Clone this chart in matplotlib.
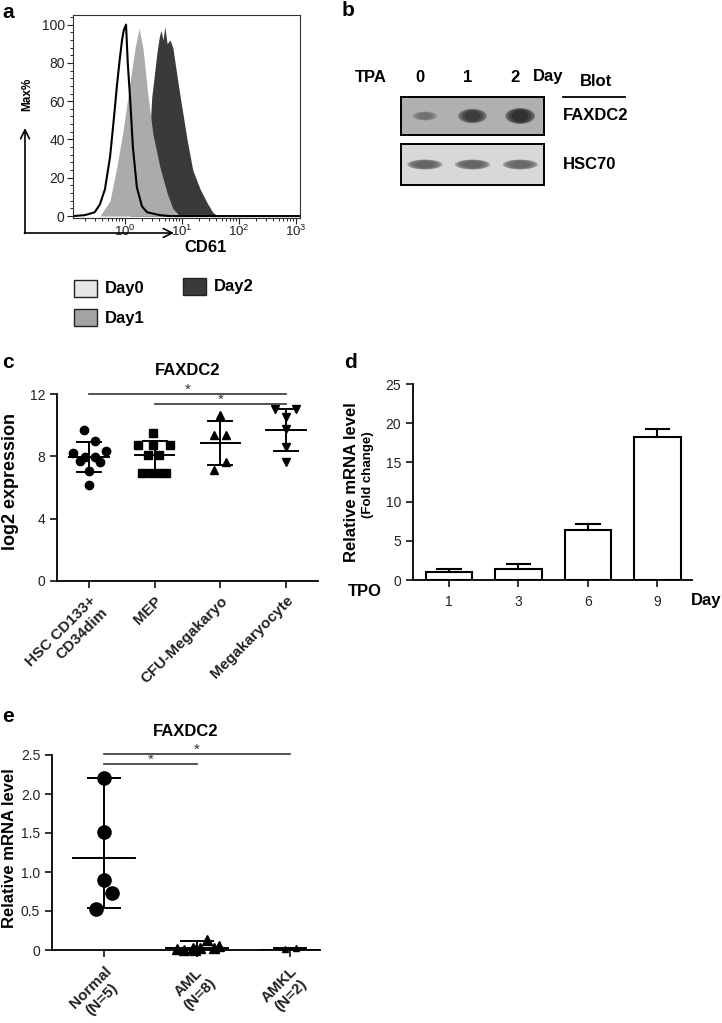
import numpy as np
import matplotlib
matplotlib.use('Agg')
import matplotlib.pyplot as plt
from matplotlib.patches import Rectangle, Ellipse
from matplotlib.ticker import MultipleLocator, LogLocator, NullFormatter

plt.rcParams['font.family'] = ['Liberation Sans', 'DejaVu Sans']
plt.rcParams['mathtext.default'] = 'regular'

# ---- panel a: CD61 histograms (log10 position, % of max)
day0_logx = [-0.91, -0.70, -0.53, -0.44, -0.35, -0.26, -0.19, -0.14, -0.09, -0.05, -0.02,
             0.02, 0.05, 0.09, 0.14, 0.21, 0.30, 0.39, 0.61, 0.79, 3.07]
day0_max = [0, 0.5, 2, 6, 14, 31, 52, 68, 82, 92, 97, 100, 80, 62, 36, 15, 5, 2, 0.5, 0, 0]
day1_logx = [-0.44, -0.26, -0.14, -0.04, 0.09, 0.18, 0.25, 0.32, 0.40, 0.49, 0.61, 0.74, 0.84, 0.96]
day1_max = [0, 8, 26, 43, 70, 88, 98, 87, 64, 43, 26, 12, 4, 0]
day2_logx = [0.09, 0.26, 0.39, 0.44, 0.47, 0.51, 0.56, 0.60, 0.63, 0.67, 0.70, 0.74, 0.79,
             0.84, 0.89, 0.96, 1.09, 1.19, 1.32, 1.44, 1.54, 1.63]
day2_max = [0, 5, 20, 45, 62, 72, 85, 93, 97, 92, 99, 90, 92, 88, 78, 64, 40, 24, 14, 7, 2, 0]
legend_days = ['Day0', 'Day1', 'Day2']

# ---- panel b: blot band strength (0..1)
tpa_days = ['0', '1', '2']
faxdc2_band = [0.35, 0.85, 1.0]
hsc70_band = [0.8, 0.8, 0.75]

# ---- panel c: log2 expression
c_groups = ['HSC CD133+\nCD34dim', 'MEP', 'CFU-Megakaryo', 'Megakaryocyte']
c_hsc = [9.69, 9.0, 8.2, 8.36, 7.94, 7.70, 7.94, 7.66, 7.06, 6.16]
c_hsc_jit = [-0.08, 0.09, -0.24, 0.25, -0.06, -0.14, 0.09, 0.17, 0.0, 0.0]
c_mep = [9.52, 8.73, 8.73, 8.73, 8.09, 8.09, 6.91, 6.91, 6.91, 6.91]
c_mep_jit = [-0.02, -0.26, -0.02, 0.23, -0.1, 0.06, -0.2, -0.06, 0.06, 0.17]
c_cfu = [10.65, 9.37, 9.37, 7.66, 7.12]
c_cfu_jit = [0.0, -0.09, 0.08, 0.08, -0.09]
c_mk = [11.02, 11.02, 10.55, 9.73, 8.58, 7.66]
c_mk_jit = [-0.17, 0.15, 0.0, 0.0, 0.0, 0.0]
c_mean = [7.98, 8.08, 8.83, 9.69]
c_sd = [0.96, 0.93, 1.41, 1.36]
c_sig = [(0, 3, 12.0), (1, 3, 11.35)]

# ---- panel d: fold change after TPO
d_days = ['1', '3', '6', '9']
d_fold = [1.0, 1.4, 6.42, 18.28]
d_err = [0.4, 0.6, 0.68, 0.98]

# ---- panel e: relative mRNA in patients
e_groups = ['Normal\n(N=5)', 'AML\n(N=8)', 'AMKL\n(N=2)']
e_norm = [2.21, 1.51, 0.90, 0.73, 0.53]
e_norm_jit = [0.0, 0.0, 0.0, 0.09, -0.09]
e_aml = [0.01, 0.0, 0.03, 0.0, 0.02, 0.13, 0.02, 0.05]
e_aml_jit = [-0.22, -0.14, -0.05, -0.02, 0.03, 0.11, 0.18, 0.23]
e_amkl = [0.01, 0.02]
e_amkl_jit = [-0.06, 0.06]
e_center = [1.175, 0.02, 0.005]
e_low = [0.534, 0.0, 0.0]
e_high = [2.21, 0.12, 0.02]
e_sig = [(0, 2, 2.51), (0, 1, 2.39)]

W, H = 722, 1023
fig = plt.figure(figsize=(W / 100, H / 100), dpi=100, facecolor='white')


def box(l, t, r, b):
    return fig.add_axes([l / W, 1 - b / H, (r - l) / W, (b - t) / H])


def fp(x, y):
    return (x / W, 1 - y / H)


def ftext(x, y, s, **kw):
    fig.text(x / W, 1 - y / H, s, **kw)


def star(ax, x, y):
    ax.annotate('*', (x, y), xytext=(0, 3), textcoords='offset points', ha='center',
                va='center', fontsize=11, color='#333333', annotation_clip=False)


TXT = '#222222'

# panel letters
for letter, (x, y) in zip('abcde', [(2, 12), (342, 11), (2, 363), (344, 363), (2, 717)]):
    ftext(x, y, letter, fontsize=15, fontweight='bold', va='center')

# ================= a =================
ax = box(73, 15, 300, 218)
ax.fill_between(10 ** np.array(day2_logx), day2_max, color='#3a3a3a', lw=0)
ax.fill_between(10 ** np.array(day1_logx), day1_max, color='#ababab', lw=0)
ax.plot(10 ** np.array(day0_logx), day0_max, color='black', lw=1.5)
ax.set_xscale('log')
ax.set_xlim(10 ** -0.91, 10 ** 3.07)
ax.set_ylim(-1, 105)
ax.set_yticks([0, 20, 40, 60, 80, 100])
ax.yaxis.set_minor_locator(MultipleLocator(4))
ax.xaxis.set_major_locator(LogLocator(base=10, numticks=10))
ax.xaxis.set_minor_locator(LogLocator(base=10, subs=np.arange(2, 10), numticks=20))
ax.xaxis.set_minor_formatter(NullFormatter())
ax.tick_params(which='major', length=4, width=0.8, labelsize=10, colors=TXT, pad=2)
ax.tick_params(axis='x', which='major', pad=0.5, labelsize=9.5)
ax.tick_params(which='minor', length=2, width=0.6)
for s in ax.spines.values():
    s.set_linewidth(0.8)
    s.set_color('#333333')

ax.annotate('', xy=fp(25, 128), xytext=fp(25, 233.5), xycoords='figure fraction',
            arrowprops=dict(arrowstyle='->', lw=1.2, mutation_scale=16, shrinkA=0, shrinkB=0))
ax.annotate('', xy=fp(174, 233), xytext=fp(24.4, 233), xycoords='figure fraction',
            arrowprops=dict(arrowstyle='->', lw=1.2, mutation_scale=16, shrinkA=0, shrinkB=0))
ftext(27, 94, 'Max%', rotation=90, fontsize=8.5, fontweight='bold', ha='center', va='center')
ftext(184, 247, 'CD61', fontsize=12, fontweight='bold', va='center')

leg_colors = ['#e6e6e6', '#a3a3a3', '#3a3a3a']
leg_pos = [(74, 280), (74, 309), (183, 278)]
for name, col, (x, y) in zip(legend_days, leg_colors, leg_pos):
    fig.patches.append(Rectangle(fp(x, y + 17), 23 / W, 17 / H, transform=fig.transFigure,
                                 facecolor=col, edgecolor='#222222', lw=1.0))
    ftext(x + 31, y + 9, name, fontsize=12, fontweight='bold', va='center')

# ================= b =================
blots = [('FAXDC2', faxdc2_band, (97, 135), '#b0b0b0', '#111111', 0.32),
         ('HSC70', hsc70_band, (144, 185), '#d8d8d8', '#555555', 0.5)]
for name, bands, (t, b), bg, bc, alf in blots:
    bx = box(401, t, 544, b)
    bx.set_facecolor(bg)
    bx.set_xlim(-0.5, 2.5)
    bx.set_ylim(0, 1)
    bx.set_xticks([])
    bx.set_yticks([])
    for s in bx.spines.values():
        s.set_linewidth(1.4)
    for i, v in enumerate(bands):
        if name == 'FAXDC2':
            w, h = 0.48 + 0.15 * v, 0.14 + 0.28 * v
        else:
            w, h = 0.74, 0.24
        for sc in [1.0, 0.9, 0.75, 0.55]:
            bx.add_patch(Ellipse((i, 0.5), w * sc, h * sc ** 0.5, facecolor=bc,
                                 edgecolor='none', alpha=alf * v))
    ftext(563, (t + b) / 2, name, fontsize=12, fontweight='bold', va='center')

ftext(371, 77, 'TPA', fontsize=12, fontweight='bold', ha='center', va='center')
for i, d in enumerate(tpa_days):
    ftext(401 + 143 * (i + 0.5) / 3 - 5, 77, d, fontsize=12, fontweight='bold',
          ha='center', va='center')
ftext(548, 77, 'Day', fontsize=12, fontweight='bold', ha='center', va='center')
ftext(596, 81, 'Blot', fontsize=12, fontweight='bold', ha='center', va='center')
fig.add_artist(plt.Line2D([563 / W, 625 / W], [1 - 97 / H, 1 - 97 / H], color='black', lw=1.3))

# ================= c =================
ax = box(57, 394, 318, 581)
groups_c = [(c_hsc, c_hsc_jit, 'o'), (c_mep, c_mep_jit, 's'),
            (c_cfu, c_cfu_jit, '^'), (c_mk, c_mk_jit, 'v')]
for i, (vals, jit, mk) in enumerate(groups_c):
    ax.plot(i + np.array(jit), vals, mk, color='black', ms=6, ls='none', clip_on=False)
    m, s = c_mean[i], c_sd[i]
    ax.plot([i, i], [m - s, m + s], color='black', lw=1.4)
    ax.plot([i - 0.3, i + 0.3], [m, m], color='black', lw=1.4)
    ax.plot([i - 0.18, i + 0.18], [m + s, m + s], color='black', lw=1.4)
    ax.plot([i - 0.18, i + 0.18], [m - s, m - s], color='black', lw=1.4)
for a0, a1, y in c_sig:
    ax.plot([a0, a1], [y, y], color='#333333', lw=1.2, clip_on=False)
    star(ax, (a0 + a1) / 2, y)
ax.set_xlim(-0.49, 3.49)
ax.set_ylim(0, 12)
ax.set_yticks([0, 4, 8, 12])
ax.set_xticks(range(4))
ax.set_xticklabels(c_groups, rotation=45, ha='right', va='top', rotation_mode='anchor',
                   fontsize=11, fontweight='bold', multialignment='right')
ax.tick_params(length=5, width=1.3, labelsize=10, colors=TXT)
ax.tick_params(axis='x', labelsize=11, pad=4)
for sp in ['top', 'right']:
    ax.spines[sp].set_visible(False)
for sp in ['left', 'bottom']:
    ax.spines[sp].set_linewidth(1.3)
ax.set_ylabel('log2 expression', fontsize=13, fontweight='bold')
ax.yaxis.set_label_coords(-38 / 261, 0.53)
ax.set_title('FAXDC2', fontsize=12, fontweight='bold', pad=14)

# ================= d =================
ax = box(413, 384, 692, 580)
xs = np.arange(len(d_days))
ax.bar(xs, d_fold, width=0.67, facecolor='white', edgecolor='black', lw=1.5)
for i in xs:
    top = d_fold[i] + d_err[i]
    ax.plot([i, i], [d_fold[i], top], color='black', lw=1.5)
    ax.plot([i - 0.17, i + 0.17], [top, top], color='black', lw=1.5)
ax.set_xlim(-0.52, 3.5)
ax.set_ylim(0, 25)
ax.set_yticks([0, 5, 10, 15, 20, 25])
ax.set_xticks(xs)
ax.set_xticklabels(d_days)
ax.tick_params(length=5, width=1.3, labelsize=10, colors=TXT)
ax.tick_params(axis='x', pad=6)
for sp in ['top', 'right']:
    ax.spines[sp].set_visible(False)
for sp in ['left', 'bottom']:
    ax.spines[sp].set_linewidth(1.3)
ftext(351, 482, 'Relative mRNA level', rotation=90, fontsize=12, fontweight='bold',
      ha='center', va='center')
ftext(368, 475, '(Fold change)', rotation=90, fontsize=9.5, fontweight='bold',
      ha='center', va='center')
ftext(365, 591, 'TPO', fontsize=12, fontweight='bold', ha='center', va='center')
ftext(706, 600, 'Day', fontsize=12, fontweight='bold', ha='center', va='center')

# ================= e =================
ax = box(52, 755, 320, 950)
ax.plot(0 + np.array(e_norm_jit), e_norm, 'o', color='black', ms=9.5, clip_on=False)
ax.plot(1 + np.array(e_aml_jit), e_aml, '^', color='black', ms=7, clip_on=False)
ax.plot(2 + np.array(e_amkl_jit), e_amkl, '^', color='black', ms=4.5, clip_on=False)
for i in range(3):
    ax.plot([i, i], [e_low[i], e_high[i]], color='black', lw=1.4)
    ax.plot([i - 0.335, i + 0.335], [e_center[i], e_center[i]], color='black', lw=1.4)
    for yv in (e_low[i], e_high[i]):
        ax.plot([i - 0.17, i + 0.17], [yv, yv], color='black', lw=1.4)
for a0, a1, y in e_sig:
    ax.plot([a0, a1], [y, y], color='#333333', lw=1.2, clip_on=False)
    star(ax, (a0 + a1) / 2, y)
ax.set_xlim(-0.56, 2.32)
ax.set_ylim(0, 2.5)
ax.set_yticks([0, 0.5, 1.0, 1.5, 2.0, 2.5])
ax.set_yticklabels(['0', '0.5', '1.0', '1.5', '2.0', '2.5'])
ax.set_xticks(range(3))
ax.set_xticklabels(e_groups, rotation=45, ha='right', va='top', rotation_mode='anchor',
                   fontsize=11, fontweight='bold', multialignment='center')
ax.tick_params(length=5, width=1.3, labelsize=10, colors=TXT)
ax.tick_params(axis='x', labelsize=11, pad=5)
for sp in ['top', 'right']:
    ax.spines[sp].set_visible(False)
for sp in ['left', 'bottom']:
    ax.spines[sp].set_linewidth(1.3)
ax.set_ylabel('Relative mRNA level', fontsize=12, fontweight='bold')
ax.yaxis.set_label_coords(-35 / 268, 0.52)
ax.set_title('FAXDC2', fontsize=12, fontweight='bold', pad=14)

fig.savefig('out.png', dpi=100, facecolor='white')
